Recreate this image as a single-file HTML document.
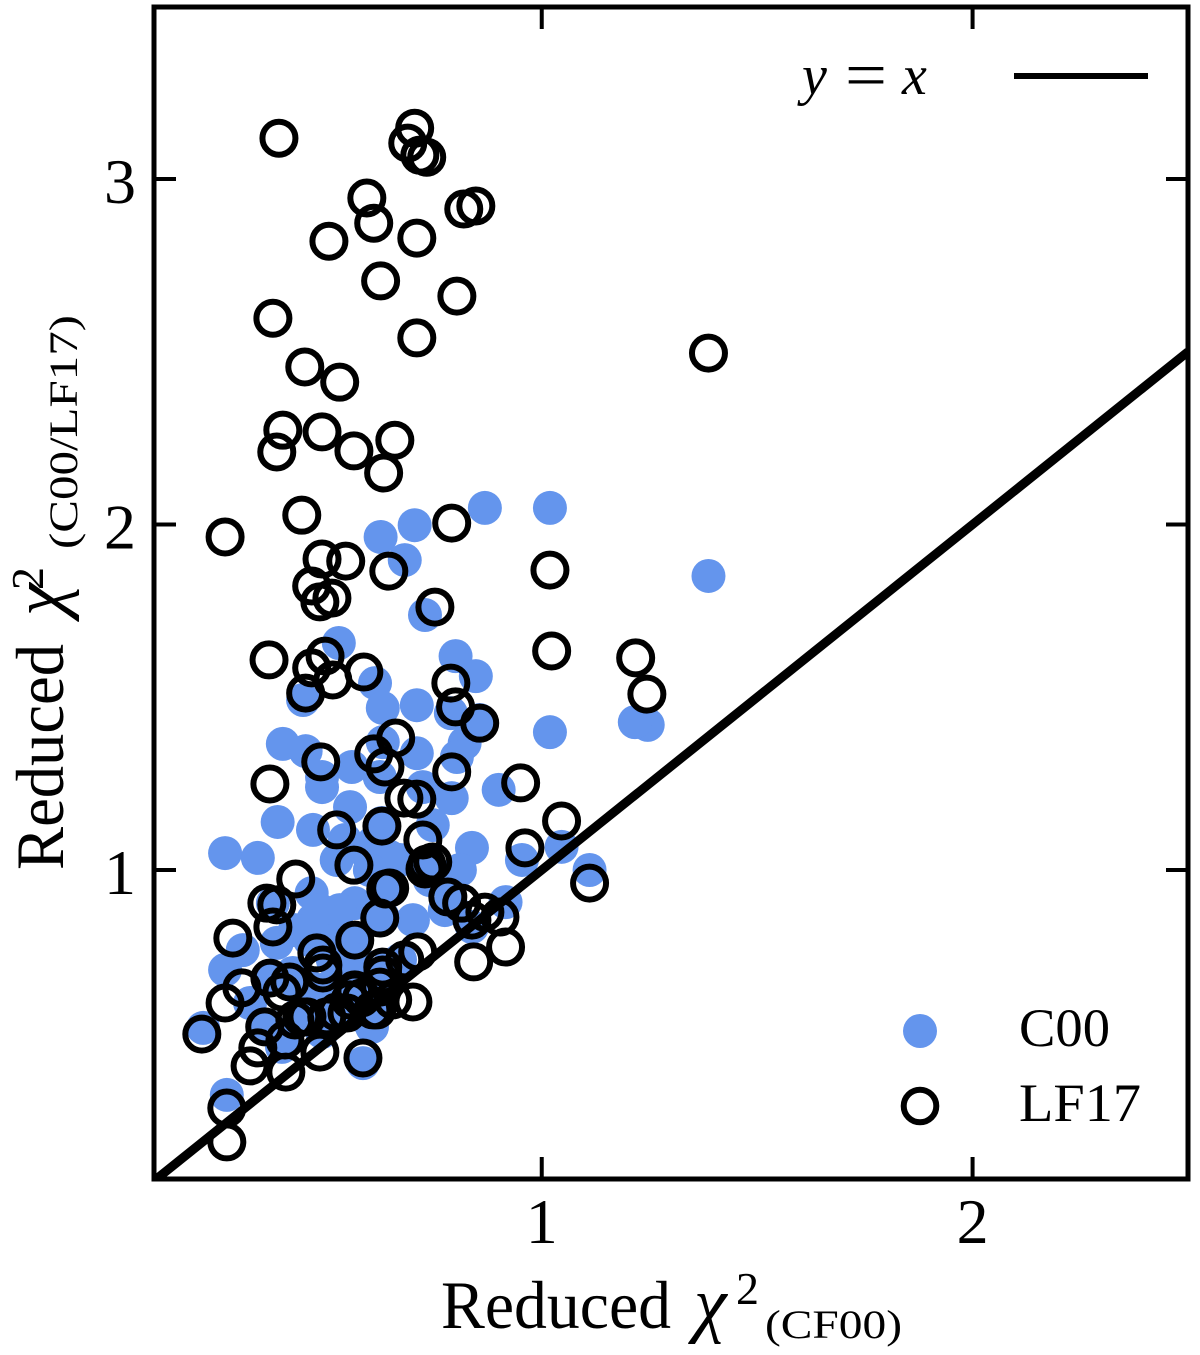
<!DOCTYPE html>
<html lang="en">
<head>
<meta charset="utf-8">
<title>Reduced chi-squared comparison</title>
<style>
html,body{margin:0;padding:0;background:#fff;width:1200px;height:1355px;overflow:hidden}
svg{display:block}
text{font-family:"Liberation Serif",serif;fill:#000}
</style>
</head>
<body>
<svg id="chart" xmlns="http://www.w3.org/2000/svg" width="1200" height="1355" viewBox="0 0 1200 1355">
<defs><clipPath id="plot-clip"><rect x="154" y="7" width="1034" height="1172"/></clipPath></defs>
<g id="marks-c00" clip-path="url(#plot-clip)"></g>
<g id="marks-line" clip-path="url(#plot-clip)"></g>
<g id="marks-lf17" clip-path="url(#plot-clip)"></g>
<g id="ticks"></g>
<rect x="154" y="7" width="1034" height="1172" fill="none" stroke="#000" stroke-width="5"/>
<g id="tick-labels"></g>

<g>
<text x="441" y="1328" font-size="68" textLength="230" lengthAdjust="spacingAndGlyphs">Reduced</text>
<text x="694" y="1328" font-size="74" font-style="italic">χ</text>
<text x="736" y="1304" font-size="46">2</text>
<text x="765" y="1338" font-size="40" textLength="137" lengthAdjust="spacingAndGlyphs">(CF00)</text>
</g>
<g>
<text transform="translate(63,870) rotate(-90)" font-size="68" textLength="226" lengthAdjust="spacingAndGlyphs">Reduced</text>
<text transform="translate(63,616) rotate(-90)" font-size="74" font-style="italic">χ</text>
<text transform="translate(43,590) rotate(-90)" font-size="46">2</text>
<text transform="translate(77,549) rotate(-90)" font-size="40" textLength="234" lengthAdjust="spacingAndGlyphs">(C00/LF17)</text>
</g>

<g>
<text x="802" y="94" font-size="56" font-style="italic">y</text>
<text x="845" y="97" font-size="66" textLength="42" lengthAdjust="spacingAndGlyphs">=</text>
<text x="902" y="94" font-size="56" font-style="italic">x</text>
<line x1="1014" y1="76" x2="1148" y2="76" stroke="#000" stroke-width="6"/>
</g>
<g>
<circle cx="920" cy="1031" r="17" fill="#6495ed"/>
<text x="1019" y="1046" font-size="54" textLength="91" lengthAdjust="spacingAndGlyphs">C00</text>
</g>
<g>
<circle cx="920" cy="1106" r="16.3" fill="none" stroke="#000" stroke-width="6"/>
<text x="1019" y="1121" font-size="54" textLength="122" lengthAdjust="spacingAndGlyphs">LF17</text>
</g>
</svg>

<script>
const xTicks = [1, 2];
const yTicks = [1, 2, 3];
const identityLine = [0.1, 2.5];

const c00Points = [
[.868,2.048],[1.019,2.048],[.626,1.964],[.705,1.998],[.682,1.897],[1.387,1.851],[.729,1.738],[.529,1.657],
[.800,1.619],[.847,1.561],[.613,1.541],[.631,1.469],[.710,1.477],[.789,1.454],[.446,1.492],[.856,1.434],
[.821,1.367],[.399,1.365],[.452,1.344],[.631,1.370],[.710,1.338],[.803,1.327],[.559,1.298],[.624,1.269],
[.490,1.269],[.490,1.240],[.555,1.182],[.724,1.240],[.791,1.208],[.900,1.232],[.387,1.139],[.469,1.116],
[.747,1.130],[.524,1.029],[.629,1.136],[.838,1.064],[.265,1.049],[.341,1.035],[.631,1.049],[.594,1.049],
[.671,1.029],[.810,1.000],[.954,1.029],[.608,1.078],[.647,1.038],[1.046,1.067],[1.111,1.000],[1.019,1.399],
[1.246,1.420],[1.216,1.428],[.786,.957],[.775,.884],[.791,.893],[.916,.907],[.838,.835],[.701,.855],
[.466,.933],[.376,.904],[.566,.904],[.469,.855],[.631,.864],[.306,.768],[.385,.789],[.265,.711],
[.462,.797],[.524,.818],[.561,.797],[.515,.740],[.369,.682],[.422,.702],[.323,.615],[.606,.566],
[.606,.546],[.214,.543],[.362,.551],[.408,.517],[.397,.488],[.490,.531],[.513,.566],[.445,.575],
[.585,.441],[.269,.349],[.571,.673],[.631,.644],[.640,.711],[.571,.740],[.462,.661],[.508,.661],
[.671,.740],[.561,.661],[.647,.951],[.485,.884],[.427,.826],[.531,.884],[.733,1.009],[.740,.971],
[.438,.653],[.578,.580],[.543,.595],[.647,.725],[.613,.624],[.531,.696],[.601,1.000],[.543,1.087]
];

const lf17Points = [
[.390,3.118],[.705,3.147],[.689,3.104],[.717,3.069],[.733,3.063],[.594,2.945],[.610,2.872],[.506,2.820],
[.710,2.829],[.819,2.913],[.847,2.922],[.626,2.705],[.803,2.661],[.376,2.597],[.710,2.540],[1.387,2.496],
[.450,2.456],[.531,2.412],[.399,2.273],[.490,2.268],[.385,2.210],[.564,2.213],[.659,2.244],[.633,2.149],
[.443,2.027],[.265,1.964],[.791,2.004],[.490,1.900],[.545,1.894],[.645,1.865],[1.019,1.868],[.466,1.822],
[.513,1.787],[.485,1.776],[.752,1.761],[.367,1.608],[1.023,1.634],[1.218,1.614],[1.244,1.509],[.497,1.619],
[.466,1.585],[.515,1.550],[.452,1.512],[.587,1.573],[.789,1.541],[.800,1.472],[.856,1.425],[.661,1.382],
[.610,1.336],[.636,1.298],[.487,1.313],[.369,1.249],[.791,1.284],[.680,1.208],[.710,1.205],[.951,1.252],
[.524,1.116],[.629,1.127],[.724,1.087],[1.046,1.142],[.961,1.064],[.564,1.014],[.429,.974],[.747,1.023],
[.733,1.017],[.729,1.003],[1.111,.962],[.647,.948],[.638,.945],[.362,.904],[.385,.899],[.376,.835],
[.283,.803],[.566,.797],[.624,.861],[.782,.922],[.814,.904],[.868,.878],[.903,.864],[.838,.855],
[.916,.777],[.842,.734],[.712,.763],[.682,.740],[.631,.719],[.631,.696],[.478,.760],[.492,.725],
[.492,.702],[.369,.687],[.415,.676],[.397,.647],[.304,.659],[.265,.615],[.211,.525],[.357,.546],
[.341,.485],[.323,.433],[.404,.508],[.443,.575],[.406,.415],[.485,.473],[.585,.456],[.269,.311],
[.269,.213],[.501,.575],[.548,.586],[.566,.647],[.617,.595],[.608,.595],[.701,.618],[.654,.624],
[.566,.653],[.555,.624],[.455,.575],[.624,.661],[.582,.630],[.524,.589],[.427,.566]
];

const SVGNS = 'http://www.w3.org/2000/svg';
function scaleX(v) { return 154 + (v - 0.1) * 430.83; }
function scaleY(v) { return 870 - (v - 1) * 345.5; }
function make(tag, parentId) {
  const el = document.createElementNS(SVGNS, tag);
  document.getElementById(parentId).appendChild(el);
  return el;
}

c00Points.forEach(function (p) {
  const c = make('circle', 'marks-c00');
  
  
  c.setAttribute('cx', scaleX(p[0]));
  c.setAttribute('cy', scaleY(p[1]));
  c.setAttribute('r', 17);
  c.setAttribute('fill', '#6495ed');
});

const refLine = make('line', 'marks-line');


refLine.setAttribute('x1', scaleX(identityLine[0]));
refLine.setAttribute('y1', scaleY(identityLine[0]));
refLine.setAttribute('x2', scaleX(identityLine[1]));
refLine.setAttribute('y2', scaleY(identityLine[1]));
refLine.setAttribute('stroke', '#000');
refLine.setAttribute('stroke-width', 9);

lf17Points.forEach(function (p) {
  const c = make('circle', 'marks-lf17');
  
  
  c.setAttribute('cx', scaleX(p[0]));
  c.setAttribute('cy', scaleY(p[1]));
  c.setAttribute('r', 16.5);
  c.setAttribute('fill', 'none');
  c.setAttribute('stroke', '#000');
  c.setAttribute('stroke-width', 6);
});

function tick(x1, y1, x2, y2) {
  const t = make('line', 'ticks');
  
  
  t.setAttribute('x1', x1);
  t.setAttribute('y1', y1);
  t.setAttribute('x2', x2);
  t.setAttribute('y2', y2);
  t.setAttribute('stroke', '#000');
  t.setAttribute('stroke-width', 4);
}
function tickLabel(x, y, anchor, value) {
  const t = make('text', 'tick-labels');
  
  
  t.setAttribute('x', x);
  t.setAttribute('y', y);
  t.setAttribute('text-anchor', anchor);
  t.setAttribute('font-size', 64);
  t.textContent = value;
}
xTicks.forEach(function (v) {
  const x = scaleX(v);
  tick(x, 1179, x, 1157);
  tick(x, 7, x, 29);
  tickLabel(x, 1243, 'middle', v);
});
yTicks.forEach(function (v) {
  const y = scaleY(v);
  tick(154, y, 176, y);
  tick(1188, y, 1166, y);
  tickLabel(136, y + 24, 'end', v);
});
</script>
</body>
</html>
